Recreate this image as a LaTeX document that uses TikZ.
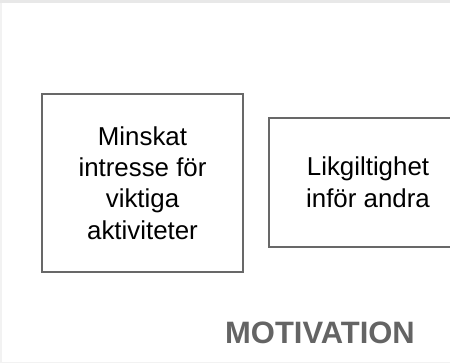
\documentclass[tikz,border=0pt]{standalone}
\usepackage{fontspec}
\setmainfont{Liberation Sans}
\newfontfamily\boxfont{Liberation Sans}
\newfontfamily\titlefont{Liberation Sans}
\usepackage{xcolor}
\definecolor{framegray}{RGB}{232,232,232}
\definecolor{edgegray}{RGB}{242,242,242}
\definecolor{boxgray}{RGB}{104,104,104}
\definecolor{titlegray}{RGB}{100,100,100}

\begin{document}
\begin{tikzpicture}[x=0.75pt,y=0.75pt,yscale=-1,xscale=1,
	symptombox/.style={draw=boxgray, line width=1.5pt, fill=white, align=center, inner sep=0pt,
		font={\fontsize{19.4}{23.6}\selectfont\boxfont}},
	titletext/.style={inner sep=0.75pt, text=titlegray,
		font={\fontsize{23.2}{26}\selectfont\titlefont\bfseries}}]
	%set diagram to 450 x 363
	\clip (0,0) rectangle (450,363);
	\fill [white] (0,0) rectangle (450,363);
	
	%Frame edges
	\fill [framegray] (0,0) rectangle (450,3);
	\fill [edgegray] (0,3) rectangle (2,363);
	\fill [edgegray] (0,362) rectangle (450,363);
	
	%Shape: Rectangle [id:minskat]
	\node [symptombox, minimum width=150.75pt, minimum height=133.5pt] (minskat) at (142.5,183)
		{Minskat\\intresse för\\viktiga\\aktiviteter};
	%Shape: Rectangle [id:likgiltighet]
	\node [symptombox, minimum width=148.5pt, minimum height=96.75pt] (likgiltighet) at (368,182.2)
		{Likgiltighet\\inför andra};
	
	% Text Node
	\node [titletext] (motivation) at (320,332.5) {MOTIVATION};
\end{tikzpicture}
\end{document}
